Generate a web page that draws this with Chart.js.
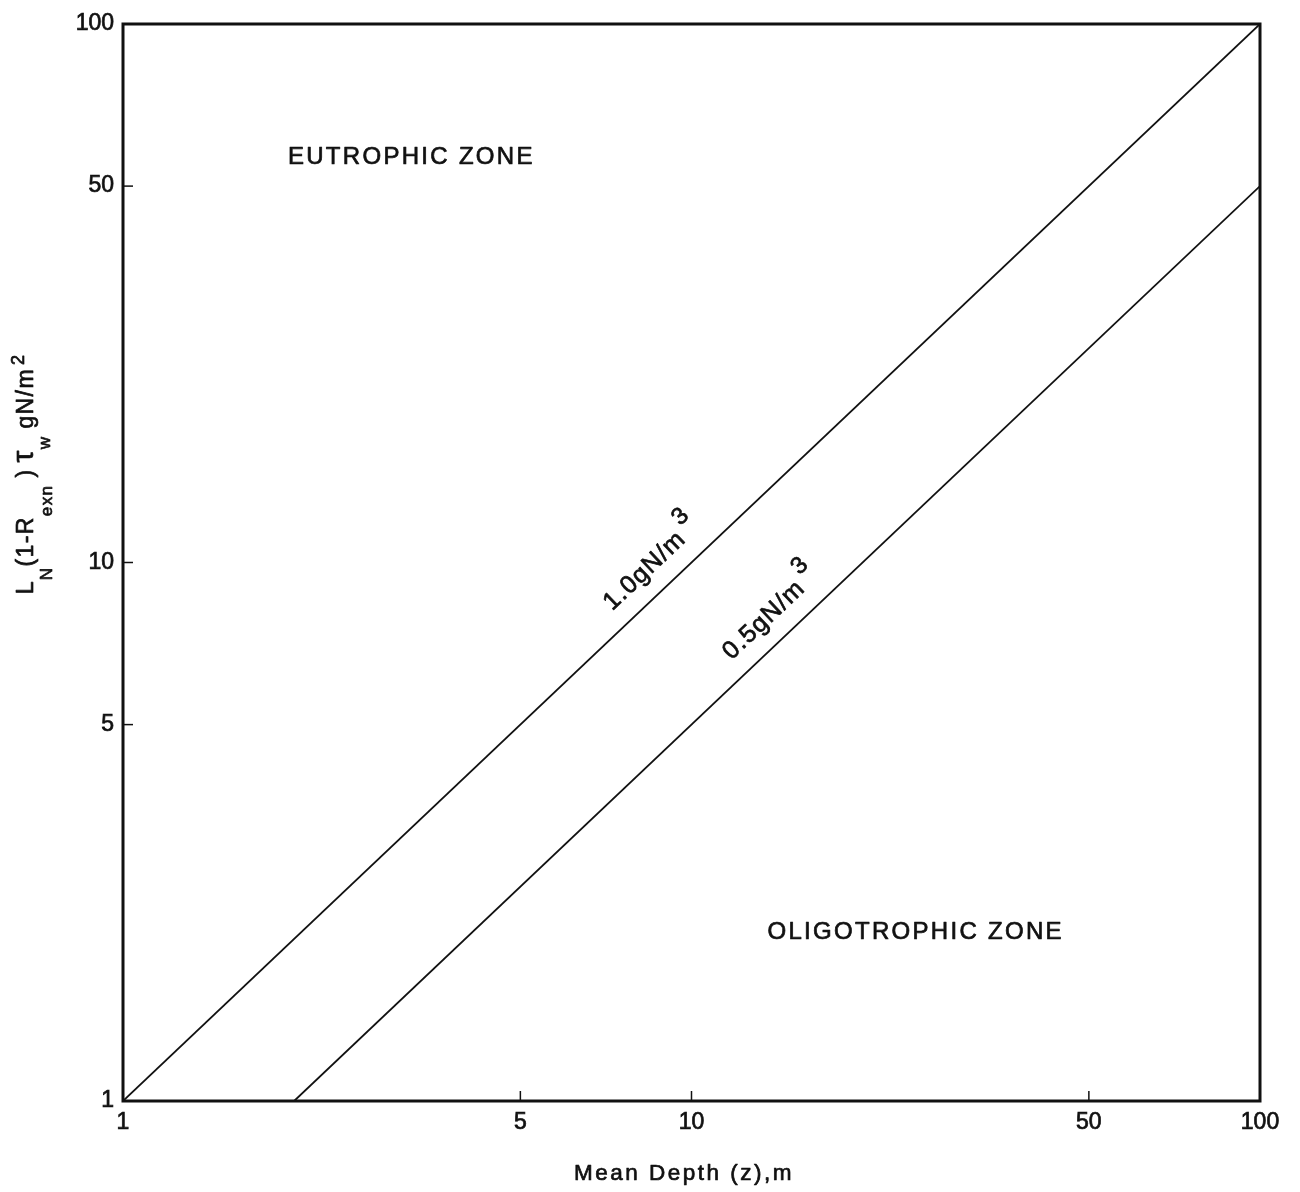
<!DOCTYPE html>
<html>
<head>
<meta charset="utf-8">
<title>Nitrogen loading vs. mean depth</title>
<script src="https://cdn.jsdelivr.net/npm/chart.js@4.4.1/dist/chart.umd.min.js"></script>
<style>
  html, body { margin: 0; padding: 0; background: #fff; }
  #wrap { width: 1300px; height: 1192px; }
</style>
</head>
<body>
<div id="wrap"><canvas id="chart" width="1300" height="1192"></canvas></div>
<script>
// Axis ticks (log-log)
const depthTicks = [1, 5, 10, 50, 100];
const loadTicks = [1, 5, 10, 50, 100];

// Critical loading line for 1.0 gN/m3
const depth10 = [1, 100];
const load10 = [1, 100];

// Critical loading line for 0.5 gN/m3
const depth05 = [2, 100];
const load05 = [1, 50];

const FONT = '"Liberation Sans", Arial, Helvetica, sans-serif';
const INK = '#111';

function series(xs, ys) {
  return xs.map((x, i) => ({ x: x, y: ys[i] }));
}

// Text filled and lightly stroked so it reads like the printed lettering.
function inkText(ctx, t, x, y) {
  ctx.fillText(t, x, y);
  ctx.strokeText(t, x, y);
}

// Draw a run of text pieces (main text, sub/superscripts) along the current baseline.
function drawRuns(ctx, runs, x0, y0, spacing, align) {
  let total = 0;
  const widths = runs.map(r => {
    ctx.font = (r.size) + 'px ' + FONT;
    ctx.letterSpacing = spacing + 'px';
    const w = ctx.measureText(r.t).width + (r.gap || 0);
    total += w;
    return w;
  });
  let x = align === 'center' ? x0 - total / 2 : x0;
  runs.forEach((r, i) => {
    ctx.font = (r.size) + 'px ' + FONT;
    ctx.letterSpacing = spacing + 'px';
    inkText(ctx, r.t, x + (r.gap || 0), y0 + (r.dy || 0));
    x += widths[i];
  });
}

const decorations = {
  id: 'decorations',
  afterDatasetsDraw(chart) {
    const { ctx, chartArea: a, scales } = chart;
    const xs = scales.x, ys = scales.y;
    ctx.save();
    ctx.fillStyle = INK;
    ctx.strokeStyle = INK;
    ctx.textBaseline = 'alphabetic';
    ctx.textAlign = 'left';

    // frame
    ctx.lineWidth = 3;
    ctx.strokeRect(a.left, a.top, a.right - a.left, a.bottom - a.top);

    // inward tick marks
    ctx.lineWidth = 1.5;
    depthTicks.forEach(v => {
      const p = xs.getPixelForValue(v);
      ctx.beginPath(); ctx.moveTo(p, a.bottom); ctx.lineTo(p, a.bottom - 10); ctx.stroke();
    });
    loadTicks.forEach(v => {
      const p = ys.getPixelForValue(v);
      ctx.beginPath(); ctx.moveTo(a.left, p); ctx.lineTo(a.left + 10, p); ctx.stroke();
    });

    ctx.lineWidth = 0.7;
    ctx.lineJoin = 'round';

    // zone labels
    ctx.font = '24px ' + FONT;
    ctx.letterSpacing = '2.3px';
    inkText(ctx, 'EUTROPHIC ZONE', xs.getPixelForValue(1.95), ys.getPixelForValue(55));
    inkText(ctx, 'OLIGOTROPHIC ZONE', xs.getPixelForValue(13.6), ys.getPixelForValue(2.0));

    // line labels, set along each line
    const ang = Math.atan2(ys.getPixelForValue(100) - ys.getPixelForValue(1),
                           xs.getPixelForValue(100) - xs.getPixelForValue(1));
    function lineLabel(xv, yv, main) {
      ctx.save();
      ctx.translate(xs.getPixelForValue(xv), ys.getPixelForValue(yv));
      ctx.rotate(ang);
      drawRuns(ctx, [
        { t: main, size: 25 },
        { t: '3', size: 24, dy: -15, gap: 5 }
      ], 0, -19, 1.2, 'left');
      ctx.restore();
    }
    lineLabel(7.65, 7.65, '1.0gN/m');
    lineLabel(12.4, 6.2, '0.5gN/m');

    // x-axis title
    ctx.font = '22.5px ' + FONT;
    ctx.letterSpacing = '2.5px';
    ctx.textAlign = 'center';
    inkText(ctx, 'Mean Depth (z),m', 684, 1180);
    ctx.textAlign = 'left';

    // y-axis title with subscripts
    ctx.save();
    ctx.translate(33, 474);
    ctx.rotate(-Math.PI / 2);
    drawRuns(ctx, [
      { t: 'L', size: 23 },
      { t: 'N', size: 17, dy: 19 },
      { t: '(1-R', size: 23 },
      { t: 'exn', size: 17, dy: 19 },
      { t: ')', size: 23, gap: 7 },
      { t: 'τ', size: 30, gap: 6 },
      { t: 'w', size: 17, dy: 17 },
      { t: 'gN/m', size: 23, gap: 7 },
      { t: '2', size: 18, dy: -9, gap: 3 }
    ], 0, 0, 1.4, 'center');
    ctx.restore();

    ctx.restore();
  }
};

const tickFont = { family: FONT, size: 23 };

new Chart(document.getElementById('chart'), {
  type: 'scatter',
  data: {
    datasets: [
      { label: '1.0 gN/m3', data: series(depth10, load10), showLine: true,
        borderColor: INK, borderWidth: 1.8, pointRadius: 0, fill: false },
      { label: '0.5 gN/m3', data: series(depth05, load05), showLine: true,
        borderColor: INK, borderWidth: 1.8, pointRadius: 0, fill: false }
    ]
  },
  options: {
    responsive: false,
    animation: false,
    devicePixelRatio: 1,
    layout: { padding: { top: 24, right: 40, left: 0, bottom: 0 } },
    plugins: { legend: { display: false }, tooltip: { enabled: false } },
    scales: {
      x: {
        type: 'logarithmic', min: 1, max: 100,
        afterBuildTicks: s => { s.ticks = depthTicks.map(v => ({ value: v })); },
        afterFit: s => { s.height = 91; },
        grid: { display: false, drawTicks: false },
        border: { display: false },
        ticks: { font: tickFont, color: INK, padding: 8, maxRotation: 0, autoSkip: false,
                 textStrokeColor: INK, textStrokeWidth: 0.7,
                 callback: v => String(v) }
      },
      y: {
        type: 'logarithmic', min: 1, max: 100,
        afterBuildTicks: s => { s.ticks = loadTicks.map(v => ({ value: v })); },
        afterFit: s => { s.width = 123; },
        grid: { display: false, drawTicks: false },
        border: { display: false },
        ticks: { font: tickFont, color: INK, padding: 9, autoSkip: false,
                 textStrokeColor: INK, textStrokeWidth: 0.7,
                 callback: v => String(v) }
      }
    }
  },
  plugins: [decorations]
});
</script>
</body>
</html>
